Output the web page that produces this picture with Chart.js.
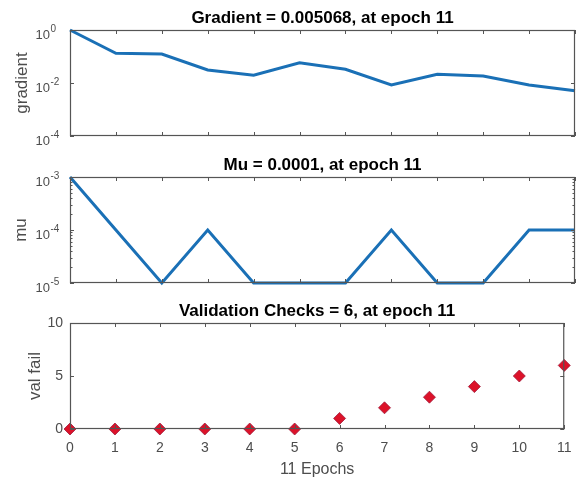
<!DOCTYPE html>
<html><head><meta charset="utf-8">
<script src="https://cdn.jsdelivr.net/npm/chart.js@4/dist/chart.umd.min.js"></script>
<style>
html,body{margin:0;padding:0;background:#fff;}
#wrap{position:relative;width:582px;height:479px;background:#fff;}
canvas{position:absolute;left:0;}
</style></head><body>
<div id="wrap">
<canvas id="c1" width="582" height="150" style="top:0px"></canvas>
<canvas id="c2" width="582" height="150" style="top:150px"></canvas>
<canvas id="c3" width="582" height="179" style="top:300px"></canvas>
</div>
<script>
const epochs = [0,1,2,3,4,5,6,7,8,9,10,11];
const gradient = [1, 0.132, 0.124, 0.031, 0.0195, 0.0583, 0.0329, 0.0084, 0.0213, 0.0184, 0.0084, 0.005068];
const mu = [1e-3, 1e-4, 1e-5, 1e-4, 1e-5, 1e-5, 1e-5, 1e-4, 1e-5, 1e-5, 1e-4, 1e-4];
const valFail = [0, 0, 0, 0, 0, 0, 1, 2, 3, 4, 5, 6];
const gradTicks = [1e-4, 1e-2, 1];
const muTicks = [1e-5, 1e-4, 1e-3];
const valTicks = [0, 5, 10];
const titles = ['Gradient = 0.005068, at epoch 11', 'Mu = 0.0001, at epoch 11', 'Validation Checks = 6, at epoch 11'];
const yLabels = ['gradient', 'mu', 'val fail'];
const xLabel = '11 Epochs';

const FONT = "'Liberation Sans', Arial, Helvetica, sans-serif";
const GRAY = '#4d4d4d';
const AXIS = '#555555';
const BLUE = '#1a70b6';

function minorLogTicks(major) {
  const out = [];
  for (let i = 0; i < major.length - 1; i++) {
    for (let k = 2; k <= 9; k++) out.push(major[i] * k);
  }
  return out;
}

function matlabAxes(opts) {
  return {
    id: 'matlabAxes',
    afterDraw(chart) {
      const ctx = chart.ctx, a = chart.chartArea;
      const xs = chart.scales.x, ys = chart.scales.y;
      ctx.save();
      ctx.strokeStyle = AXIS;
      ctx.lineWidth = 1.2;
      ctx.strokeRect(a.left + 0.5, a.top + 0.5, a.right - a.left - 1, a.bottom - a.top - 1);
      ctx.lineWidth = 1;
      ctx.beginPath();
      epochs.forEach(e => {
        const x = Math.round(xs.getPixelForValue(e)) + 0.5;
        ctx.moveTo(x, a.top); ctx.lineTo(x, a.top + 4);
        ctx.moveTo(x, a.bottom); ctx.lineTo(x, a.bottom - 4);
      });
      opts.yTicks.forEach(v => {
        const y = Math.round(ys.getPixelForValue(v)) + 0.5;
        ctx.moveTo(a.left, y); ctx.lineTo(a.left + 4, y);
        ctx.moveTo(a.right, y); ctx.lineTo(a.right - 4, y);
      });
      (opts.minor || []).forEach(v => {
        const y = Math.round(ys.getPixelForValue(v)) + 0.5;
        ctx.moveTo(a.left, y); ctx.lineTo(a.left + 2.5, y);
        ctx.moveTo(a.right, y); ctx.lineTo(a.right - 2.5, y);
      });
      ctx.stroke();
      // title
      ctx.fillStyle = '#000';
      ctx.font = 'bold 17px ' + FONT;
      ctx.textAlign = 'center';
      ctx.textBaseline = 'alphabetic';
      ctx.fillText(opts.title, (a.left + a.right) / 2, a.top - 7.5);
      // log tick labels with superscript exponent
      if (opts.logLabels) {
        ctx.fillStyle = GRAY;
        opts.yTicks.forEach(v => {
          const y = ys.getPixelForValue(v);
          const ex = Math.round(Math.log10(v));
          ctx.font = '13px ' + FONT;
          ctx.textAlign = 'right';
          ctx.textBaseline = 'middle';
          ctx.fillText('10', 50, y + 5);
          ctx.font = '10px ' + FONT;
          ctx.textAlign = 'left';
          ctx.fillText(String(ex), 50.5, y - 1);
        });
      }
      ctx.restore();
    }
  };
}

function yTitle(text, padTop) {
  return {display: true, text: text, color: GRAY, font: {family: FONT, size: 17}, padding: {top: padTop, bottom: 0}};
}

const common = {
  responsive: false, animation: false, devicePixelRatio: 1,
  plugins: {legend: {display: false}, tooltip: {enabled: false}}
};

// Gradient
new Chart(document.getElementById('c1'), {
  type: 'line',
  data: {datasets: [{data: epochs.map((e, i) => ({x: e, y: gradient[i]})), borderColor: BLUE, borderWidth: 3, pointRadius: 0, tension: 0, clip: false, fill: false}]},
  options: Object.assign({}, common, {
    layout: {padding: {left: 0, right: 7, top: 30, bottom: 14}},
    scales: {
      x: {type: 'linear', min: 0, max: 11, display: false},
      y: {type: 'logarithmic', min: gradTicks[0], max: gradTicks[gradTicks.length - 1],
          afterFit: s => { s.width = 70; },
          ticks: {display: false}, grid: {display: false, drawTicks: false}, border: {display: false},
          title: yTitle(yLabels[0], 12.3)}
    }
  }),
  plugins: [matlabAxes({title: titles[0], yTicks: gradTicks, logLabels: true})]
});

// Mu
new Chart(document.getElementById('c2'), {
  type: 'line',
  data: {datasets: [{data: epochs.map((e, i) => ({x: e, y: mu[i]})), borderColor: BLUE, borderWidth: 3, pointRadius: 0, tension: 0, clip: false, fill: false}]},
  options: Object.assign({}, common, {
    layout: {padding: {left: 0, right: 7, top: 27, bottom: 17}},
    scales: {
      x: {type: 'linear', min: 0, max: 11, display: false},
      y: {type: 'logarithmic', min: muTicks[0], max: muTicks[muTicks.length - 1],
          afterFit: s => { s.width = 70; },
          ticks: {display: false}, grid: {display: false, drawTicks: false}, border: {display: false},
          title: yTitle(yLabels[1], 11.5)}
    }
  }),
  plugins: [matlabAxes({title: titles[1], yTicks: muTicks, minor: minorLogTicks(muTicks), logLabels: true})]
});

// Validation checks
new Chart(document.getElementById('c3'), {
  type: 'scatter',
  data: {datasets: [{data: epochs.map((e, i) => ({x: e, y: valFail[i]})), pointStyle: 'rectRot', pointRadius: 6,
    backgroundColor: '#dc1229', borderColor: '#a01c3c', borderWidth: 0.8, showLine: false, clip: false}]},
  options: Object.assign({}, common, {
    layout: {padding: {left: 0, right: 7, top: 23, bottom: 0}},
    scales: {
      x: {type: 'linear', min: 0, max: 11,
          afterFit: s => { s.height = 50; },
          ticks: {stepSize: 1, autoSkip: false, maxRotation: 0, color: GRAY, font: {family: FONT, size: 14}, padding: 10.5},
          grid: {display: false, drawTicks: false}, border: {display: false},
          title: {display: true, text: xLabel, color: GRAY, font: {family: FONT, size: 16}, padding: {top: 0, bottom: 0}}},
      y: {type: 'linear', min: valTicks[0], max: valTicks[valTicks.length - 1],
          afterFit: s => { s.width = 70; },
          afterBuildTicks: s => { s.ticks = valTicks.map(v => ({value: v})); },
          ticks: {color: GRAY, font: {family: FONT, size: 14}, padding: 7},
          grid: {display: false, drawTicks: false}, border: {display: false},
          title: yTitle(yLabels[2], 24.8)}
    }
  }),
  plugins: [matlabAxes({title: titles[2], yTicks: valTicks})]
});
</script>
</body></html>
